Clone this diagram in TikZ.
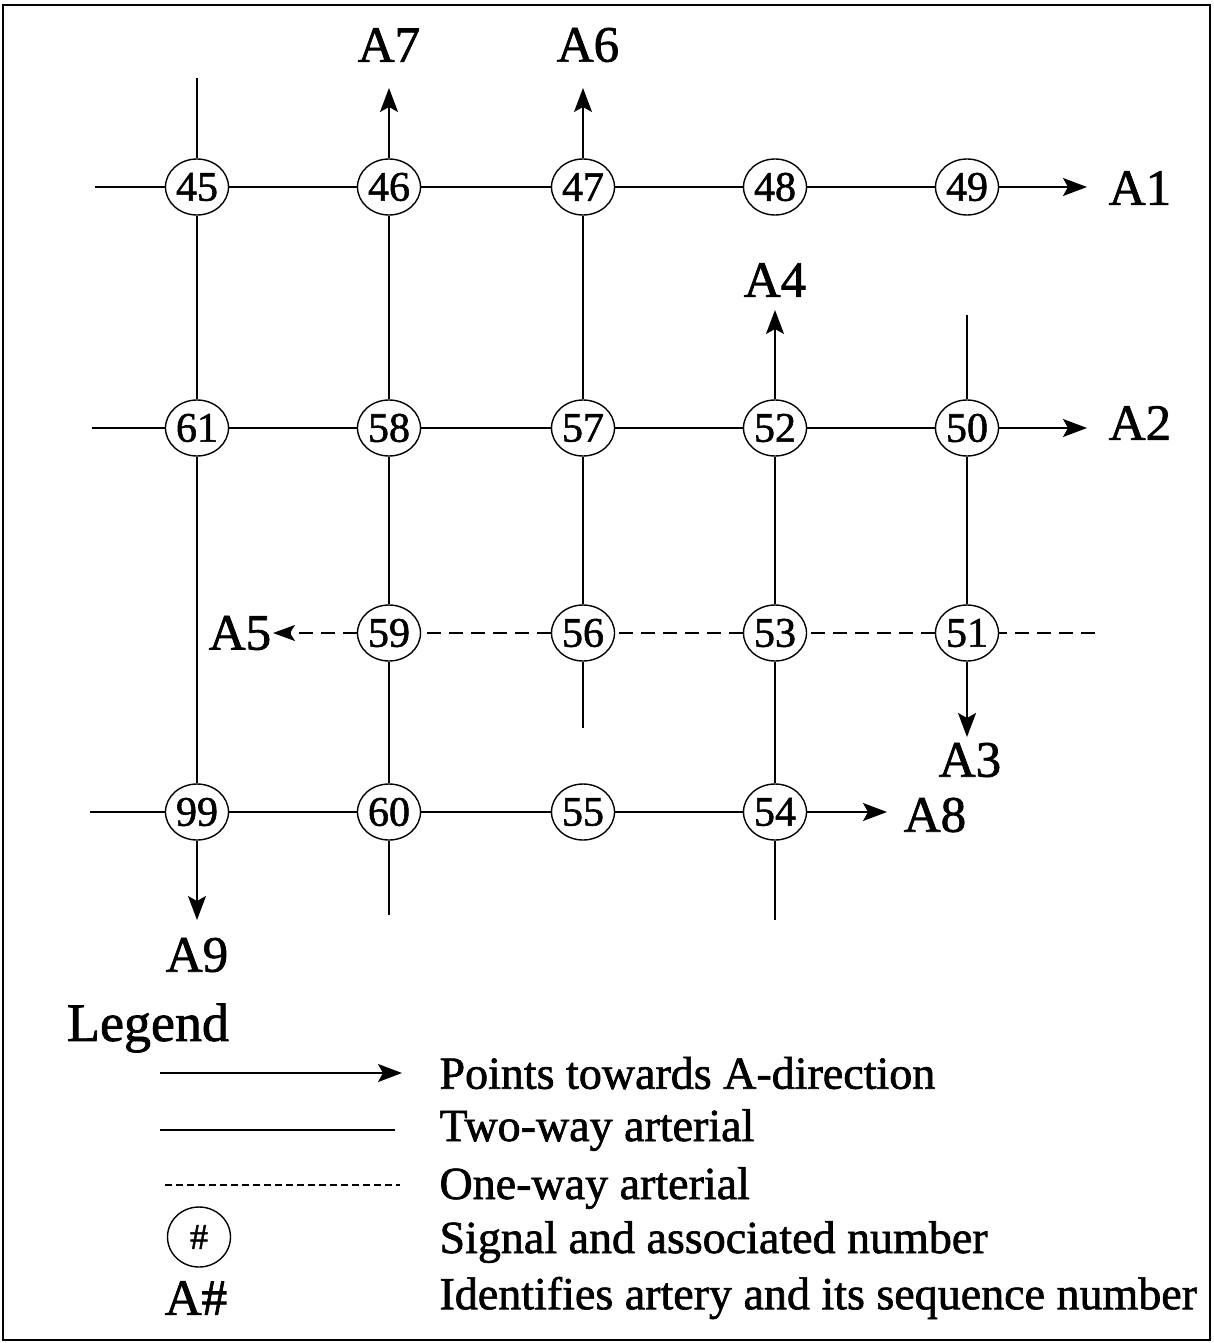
\documentclass[tikz,border=0pt]{standalone}
\usepackage{fontspec}
\setmainfont{Liberation Serif}[FakeBold=1.4]
\usetikzlibrary{arrows.meta, positioning, shapes.geometric}

\tikzset{
  signal/.style={ellipse, draw, line width=1.4pt, minimum width=63pt, minimum height=56pt,
    inner sep=0pt, font=\fontsize{42}{42}\selectfont},
  artlabel/.style={font=\fontsize{51}{51}\selectfont},
  legtext/.style={anchor=west, font=\fontsize{46}{46}\selectfont},
  road/.style={line width=1.5pt},
  oneway/.style={road, dash pattern=on 14pt off 8pt},
  toA/.style={road, -{Stealth[length=24pt, width=18pt, inset=5pt]}},
}

\begin{document}
\begin{tikzpicture}[x=1pt, y=-1pt]
  \useasboundingbox (0,0) rectangle (1213,1343);
  \draw[line width=2pt] (3,5) rectangle (1210,1340);

  % signals
  \foreach \n/\x/\y in {45/197/187, 46/389/187, 47/583/187, 48/775/187, 49/967/187,
      61/197/428, 58/389/428, 57/583/428, 52/775/428, 50/967/428,
      59/389/633, 56/583/633, 53/775/633, 51/967/633,
      99/197/812, 60/389/812, 55/583/812, 54/775/812}
    \node[signal] (s\n) at (\x,\y) {\n};

  % free ends
  \coordinate (w1) at (95,187);
  \coordinate (w2) at (92,428);
  \coordinate (w4) at (90,812);
  \coordinate (r3) at (1095,633);
  \coordinate (n1) at (197,78);
  \coordinate (n5) at (967,315);
  \coordinate (b2) at (389,915);
  \coordinate (b3) at (583,728);
  \coordinate (b4) at (775,920);
  \coordinate (e1) at (1087,187);
  \coordinate (e2) at (1087,428);
  \coordinate (e3) at (967,737);
  \coordinate (e4) at (775,310);
  \coordinate (e5) at (273,633);
  \coordinate (e6) at (583,88);
  \coordinate (e7) at (389,88);
  \coordinate (e8) at (887,812);
  \coordinate (e9) at (197,920);

  % rows
  \draw[road] (w1) -- (s45) -- (s46) -- (s47) -- (s48) -- (s49);
  \draw[toA] (s49) -- (e1);
  \draw[road] (w2) -- (s61) -- (s58) -- (s57) -- (s52) -- (s50);
  \draw[toA] (s50) -- (e2);
  \draw[oneway] (r3) -- (s51) -- (s53) -- (s56) -- (s59);
  \draw[oneway, -{Stealth[length=22pt, width=16pt, inset=5pt]}] (s59) -- (e5);
  \draw[road] (w4) -- (s99) -- (s60) -- (s55) -- (s54);
  \draw[toA] (s54) -- (e8);

  % columns
  \draw[road] (n1) -- (s45) -- (s61) -- (s99);
  \draw[toA] (s99) -- (e9);
  \draw[toA] (s46) -- (e7);
  \draw[road] (s46) -- (s58) -- (s59) -- (s60) -- (b2);
  \draw[toA] (s47) -- (e6);
  \draw[road] (s47) -- (s57) -- (s56) -- (b3);
  \draw[toA] (s52) -- (e4);
  \draw[road] (s52) -- (s53) -- (s54) -- (b4);
  \draw[road] (n5) -- (s50) -- (s51);
  \draw[toA] (s51) -- (e3);

  % artery labels
  \node[artlabel] (A1) at (1140,188) {A1};
  \node[artlabel] (A2) at (1140,423) {A2};
  \node[artlabel] (A3) at (970,760) {A3};
  \node[artlabel] (A4) at (775,280) {A4};
  \node[artlabel] (A5) at (240,633) {A5};
  \node[artlabel] (A6) at (588,45) {A6};
  \node[artlabel] (A7) at (389,45) {A7};
  \node[artlabel] (A8) at (935,815) {A8};
  \node[artlabel] (A9) at (197,955) {A9};

  % legend
  \node[font=\fontsize{54}{54}\selectfont] (leg) at (148,1028) {Legend};
  \coordinate (l1a) at (160,1073);
  \coordinate (l1b) at (402,1073);
  \coordinate (l2a) at (160,1130);
  \coordinate (l2b) at (395,1130);
  \coordinate (l3a) at (165,1185);
  \coordinate (l3b) at (400,1185);
  \draw[toA] (l1a) -- (l1b);
  \draw[road] (l2a) -- (l2b);
  \draw[road, dash pattern=on 7pt off 4pt] (l3a) -- (l3b);
  \node[signal, minimum height=60pt, font=\fontsize{36}{36}\selectfont] (lsig) at (199,1237) {\#};
  \node[artlabel] (lA) at (196,1298) {A\#};
  \node[legtext] (t1) at (436,1073) {Points towards A-direction};
  \node[legtext] (t2) at (436,1130) {Two-way arterial};
  \node[legtext] (t3) at (436,1188) {One-way arterial};
  \node[legtext] (t4) at (436,1242) {Signal and associated number};
  \node[legtext] (t5) at (436,1298) {Identifies artery and its sequence number};
\end{tikzpicture}
\end{document}
